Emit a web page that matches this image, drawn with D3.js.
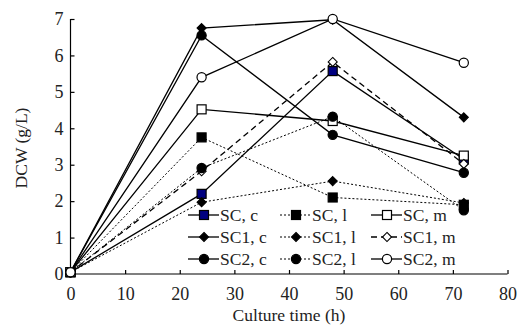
<!DOCTYPE html>
<html>
<head>
<meta charset="utf-8">
<script src="https://cdn.jsdelivr.net/npm/d3@7"></script>
<style>
  body { margin: 0; background: #fff; }
  svg text { font-family: "Liberation Serif", serif; fill: #222; }
  .axis path, .axis line { stroke: #000; stroke-width: 1.2; }
</style>
</head>
<body>
<div id="chart"></div>
<script>
// sampling times (h)
let times = [0, 24, 48, 72];

// DCW (g/L)
let scC = [0.05, 2.2, 5.57, 3.15];
let scL = [0.05, 3.75, 2.1, 1.9];
let scM = [0.05, 4.52, 4.2, 3.25];
let sc1C = [0.05, 6.75, 6.98, 4.3];
let sc1L = [0.05, 1.97, 2.55, 1.95];
let sc1M = [0.05, 2.82, 5.82, 3.02];
let sc2C = [0.05, 6.55, 3.82, 2.78];
let sc2L = [0.05, 2.91, 4.32, 1.75];
let sc2M = [0.05, 5.4, 7.0, 5.8];

let xTicks = [0, 10, 20, 30, 40, 50, 60, 70, 80];
let yTicks = [0, 1, 2, 3, 4, 5, 6, 7];

let seriesNames = ["SC, c", "SC, l", "SC, m", "SC1, c", "SC1, l", "SC1, m", "SC2, c", "SC2, l", "SC2, m"];
let seriesValues = [scC, scL, scM, sc1C, sc1L, sc1M, sc2C, sc2L, sc2M];

// marker / line style per series
function styleOf(i) {
    let shape = ["square", "diamond", "circle"][Math.floor(i / 3)];
    let kind = i % 3; // 0 = c, 1 = l, 2 = m
    let fill = kind === 2 ? "#fff" : "#000";
    if (i === 0) fill = "#000080";
    let dash = null;
    if (kind === 1) dash = "2,2";
    if (i === 5) dash = "6,4";
    return {shape: shape, fill: fill, dash: dash, lw: kind === 1 ? 1 : 1.3};
}

let width = 526, height = 327;

let svg = d3.select("#chart").append("svg")
    .attr("width", width)
    .attr("height", height);

let x = d3.scaleLinear().domain([0, 80]).range([70.5, 507.5]);
let y = d3.scaleLinear().domain([0, 7]).range([274, 19]);

let xAxis = d3.axisBottom(x).tickValues(xTicks).tickSize(-4).tickPadding(13).tickFormat(d3.format("d"));
let yAxis = d3.axisLeft(y).tickValues(yTicks).tickSize(-4).tickPadding(7).tickFormat(d3.format("d"));

svg.append("g")
    .attr("class", "x-axis axis")
    .attr("transform", "translate(0,274)")
    .call(xAxis)
    .attr("font-family", null)
    .attr("font-size", 18)
    .call(g => g.select(".domain").attr("d", "M70.5,0H507.5"));

svg.append("g")
    .attr("class", "y-axis axis")
    .attr("transform", "translate(70.5,0)")
    .call(yAxis)
    .attr("font-family", null)
    .attr("font-size", 18)
    .call(g => g.select(".domain").attr("d", "M0,274V19"));

svg.append("text")
    .attr("x", 289)
    .attr("y", 321)
    .style("text-anchor", "middle")
    .style("font-size", "17.5px")
    .text("Culture time (h)");

svg.append("text")
    .attr("transform", "rotate(-90)")
    .attr("x", -148)
    .attr("y", 27)
    .style("text-anchor", "middle")
    .style("font-size", "17.5px")
    .text("DCW (g/L)");

function drawMarker(g, shape, cx, cy, fill) {
    if (shape === "square") {
        g.append("rect")
            .attr("x", cx - 4.5).attr("y", cy - 4.5)
            .attr("width", 9).attr("height", 9)
            .attr("fill", fill).attr("stroke", "#000").attr("stroke-width", 1.2);
    } else if (shape === "circle") {
        g.append("circle")
            .attr("cx", cx).attr("cy", cy).attr("r", 4.6)
            .attr("fill", fill).attr("stroke", "#000").attr("stroke-width", 1.2);
    } else {
        g.append("path")
            .attr("d", d3.symbol().type(d3.symbolDiamond2).size(52)())
            .attr("transform", "translate(" + cx + "," + cy + ")")
            .attr("fill", fill).attr("stroke", "#000").attr("stroke-width", 1.1);
    }
}

let line = d3.line()
    .x((d, i) => x(times[i]))
    .y(d => y(d));

let plot = svg.append("g");

seriesValues.forEach(function(vals, i) {
    let s = styleOf(i);
    let g = plot.append("g");
    g.append("path")
        .attr("d", line(vals))
        .attr("fill", "none")
        .attr("stroke", "#000")
        .attr("stroke-width", s.lw)
        .attr("stroke-dasharray", s.dash);
    vals.forEach(function(v, j) {
        drawMarker(g, s.shape, x(times[j]), y(v), s.fill);
    });
});

// legend, 3 x 3
let legCols = [188, 280, 371];
let legRows = [215, 237, 259];

let legend = svg.append("g").attr("class", "legend");
seriesNames.forEach(function(name, i) {
    let s = styleOf(i);
    let col = i % 3, row = Math.floor(i / 3);
    let lx = legCols[col], ly = legRows[row];
    legend.append("line")
        .attr("x1", lx).attr("x2", lx + 31)
        .attr("y1", ly).attr("y2", ly)
        .attr("stroke", "#000")
        .attr("stroke-width", s.lw)
        .attr("stroke-dasharray", s.dash);
    drawMarker(legend, s.shape, lx + 16, ly, s.fill);
    legend.append("text")
        .attr("x", lx + 32)
        .attr("y", ly + 6)
        .style("font-size", "17.5px")
        .text(name);
});
</script>
</body>
</html>
